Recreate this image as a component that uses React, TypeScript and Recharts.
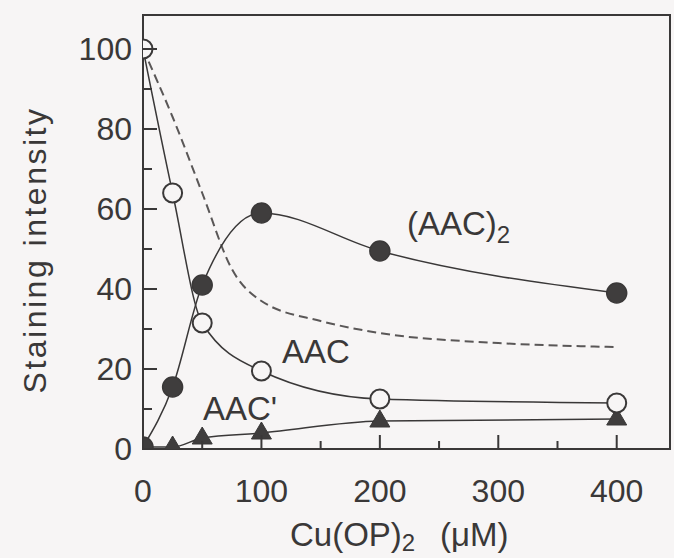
import React from "react";
import { LineChart, Line, XAxis, YAxis, ReferenceArea } from "recharts";

const conc = [0, 25, 50, 100, 200, 400];
const aac = [100, 64, 31.5, 19.5, 12.5, 11.5];
const aacDimer = [0.5, 15.5, 41, 59, 49.5, 39];
const aacPrime = [0.5, 0.5, 2.75, 4, 7, 7.5];

const totalConc = [0, 25, 50, 75, 100, 150, 200, 300, 400];
const total = [100, 83, 64, 45, 37, 32, 29, 26.5, 25.5];

const xTicks = [0, 50, 100, 150, 200, 250, 300, 350, 400];
const yTicks = [0, 10, 20, 30, 40, 50, 60, 70, 80, 90, 100];

const INK = "#3a3838";
const BG = "#f7f5f5";
const FONT = "'Liberation Sans', Arial, Helvetica, sans-serif";

const toRows = (xs: number[], ys: number[]) => xs.map((x, i) => ({ x, y: ys[i] }));

const XTick = (props: any) => {
  const { x, y, payload } = props;
  const major = payload.value % 100 === 0;
  return (
    <g>
      <line x1={x} y1={y} x2={x} y2={y - (major ? 14 : 8)} stroke={INK} strokeWidth={2} />
      {major && (
        <text x={x} y={y + 53} textAnchor="middle" fontSize={32} fill={INK} fontFamily={FONT}>
          {payload.value}
        </text>
      )}
    </g>
  );
};

const YTick = (props: any) => {
  const { x, y, payload } = props;
  const major = payload.value % 20 === 0;
  return (
    <g>
      <line x1={x} y1={y} x2={x + (major ? 14 : 9)} y2={y} stroke={INK} strokeWidth={2} />
      {major && (
        <text x={x - 11} y={y + 11} textAnchor="end" fontSize={32} fill={INK} fontFamily={FONT}>
          {payload.value}
        </text>
      )}
    </g>
  );
};

const openDot = (p: any) => (
  <circle key={p.index} cx={p.cx} cy={p.cy} r={9.5} fill={BG} stroke={INK} strokeWidth={2} />
);

const filledDot = (p: any) => (
  <circle key={p.index} cx={p.cx} cy={p.cy} r={10} fill="#3f3d3d" stroke={INK} strokeWidth={1.5} />
);

const triDot = (p: any) => (
  <polygon
    key={p.index}
    points={`${p.cx},${p.cy - 11} ${p.cx - 10},${p.cy + 6} ${p.cx + 10},${p.cy + 6}`}
    fill="#3f3d3d"
    stroke={INK}
    strokeWidth={1}
  />
);

export default function App() {
  return (
    <div style={{ position: "absolute", left: 0, top: 0, width: 674, height: 558, background: BG }}>
      <LineChart width={674} height={558} margin={{ top: 15, right: 4, left: 0, bottom: 0 }}>
        <ReferenceArea x1={0} x2={445} y1={0} y2={108.5} fill="none" stroke={INK} strokeWidth={2} />
        <XAxis
          type="number"
          dataKey="x"
          domain={[0, 445]}
          ticks={xTicks}
          height={109}
          tickSize={0}
          tickMargin={0}
          tickLine={false}
          axisLine={{ stroke: INK, strokeWidth: 2 }}
          tick={<XTick />}
          allowDataOverflow
        />
        <YAxis
          type="number"
          dataKey="y"
          domain={[0, 108.5]}
          ticks={yTicks}
          width={143}
          tickSize={0}
          tickMargin={0}
          tickLine={false}
          axisLine={{ stroke: INK, strokeWidth: 2 }}
          tick={<YTick />}
          allowDataOverflow
        />
        <Line
          data={toRows(totalConc, total)}
          dataKey="y"
          type="monotone"
          stroke="#5a5757"
          strokeWidth={2}
          strokeDasharray="9 5"
          dot={false}
          isAnimationActive={false}
        />
        <Line
          data={toRows(conc, aacPrime)}
          dataKey="y"
          type="monotone"
          stroke={INK}
          strokeWidth={1.5}
          dot={triDot}
          isAnimationActive={false}
        />
        <Line
          data={toRows(conc, aacDimer)}
          dataKey="y"
          type="monotone"
          stroke={INK}
          strokeWidth={1.5}
          dot={filledDot}
          isAnimationActive={false}
        />
        <Line
          data={toRows(conc, aac)}
          dataKey="y"
          type="monotone"
          stroke={INK}
          strokeWidth={1.5}
          dot={openDot}
          isAnimationActive={false}
        />
        <text x={407} y={235} fontSize={33} fill={INK} fontFamily={FONT}>
          (AAC)<tspan dy={8} fontSize={24}>2</tspan>
        </text>
        <text x={282} y={363} fontSize={33} fill={INK} fontFamily={FONT}>
          AAC
        </text>
        <text x={203} y={420} fontSize={33} fill={INK} fontFamily={FONT}>
          AAC'
        </text>
        <text x={290} y={546} fontSize={33} fill={INK} fontFamily={FONT}>
          Cu(OP)<tspan dy={5} fontSize={24}>2</tspan>
          <tspan x={440} y={546}>(μM)</tspan>
        </text>
        <text
          x={46}
          y={250}
          textAnchor="middle"
          fontSize={32}
          letterSpacing={2.5}
          fill={INK}
          fontFamily={FONT}
          transform="rotate(-90, 46, 250)"
        >
          Staining intensity
        </text>
      </LineChart>
    </div>
  );
}
